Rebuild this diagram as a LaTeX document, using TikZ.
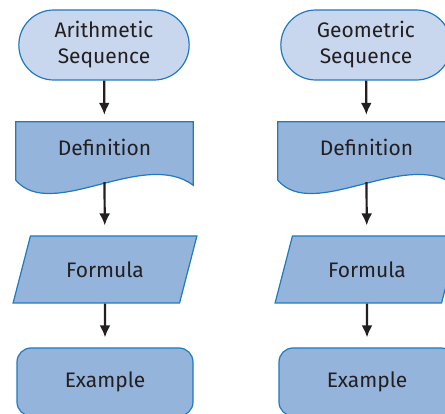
\documentclass[tikz,border=0pt]{standalone}
\usepackage{fontspec}
\setmainfont{Fira Sans}
\usepackage{xcolor}
\usepackage{tikz}
\usetikzlibrary{arrows.meta,shapes.geometric,shapes.misc,backgrounds}
\definecolor{edgeblue}{HTML}{1F7AC0}
\definecolor{paleblue}{HTML}{C9D7EE}
\definecolor{midblue}{HTML}{94B4DC}
\definecolor{inkgrey}{HTML}{231F20}
\newcommand{\labelfont}{\fontsize{21}{26}\selectfont}
\tikzstyle{term}=[rounded rectangle, draw=edgeblue, fill=paleblue,% start / end box
line width=1.2pt, minimum width=177pt, minimum height=70pt, align=center, font=\labelfont, text=inkgrey]
\tikzstyle{docu}=[rectangle, minimum width=177pt, minimum height=50pt, font=\labelfont, text=inkgrey]
\tikzstyle{datin}=[trapezium, trapezium left angle=66.6, trapezium right angle=113.4,% slanted input box
trapezium stretches=true, draw=edgeblue, fill=midblue, line width=1.2pt,
minimum width=184pt, minimum height=67pt, font=\labelfont, text=inkgrey]
\tikzstyle{proc}=[rectangle, rounded corners=14pt, draw=edgeblue, fill=midblue,
line width=1.2pt, minimum width=176pt, minimum height=68pt, font=\labelfont, text=inkgrey]
\tikzstyle{flow}=[-{Latex[length=12pt,width=11pt]}, line width=2.2pt, draw=inkgrey]
% document box with a wavy bottom, drawn behind its node
\newcommand{\docshape}[1]{%
\begin{scope}[on background layer]
\draw[draw=edgeblue, fill=midblue, line width=1.2pt] (#1.north west) -- (#1.north east)
 -- ([yshift=-13pt]#1.south east)
 .. controls ([xshift=-50pt,yshift=24pt]#1.south east) and ([xshift=36pt,yshift=-50pt]#1.south west) ..
 ([yshift=-8pt]#1.south west) -- cycle;
\end{scope}}

\begin{document}
\begin{tikzpicture}[x=1pt,y=1pt]
\useasboundingbox (0,0) rectangle (445,-414);
% arithmetic column
\node[term] (seqA) at (104,-45) {Arithmetic\\Sequence};
\node[docu] (defA) at (104.5,-147) {Definition};
\docshape{defA}
\node[datin] (frmA) at (105,-269.5) {Formula};
\node[proc] (exmA) at (105,-382) {Example};
\draw[flow, shorten >=7pt] (seqA) -- (defA);
\draw[flow, shorten >=10pt] ([yshift=-10pt]defA.south) -- (frmA);
\draw[flow, shorten >=10pt] (frmA) -- (exmA);
% geometric column
\node[term] (seqG) at (366,-45) {Geometric\\Sequence};
\node[docu] (defG) at (366.5,-147) {Definition};
\docshape{defG}
\node[datin] (frmG) at (367,-269.5) {Formula};
\node[proc] (exmG) at (367,-382) {Example};
\draw[flow, shorten >=7pt] (seqG) -- (defG);
\draw[flow, shorten >=10pt] ([yshift=-10pt]defG.south) -- (frmG);
\draw[flow, shorten >=10pt] (frmG) -- (exmG);
\end{tikzpicture}
\end{document}
